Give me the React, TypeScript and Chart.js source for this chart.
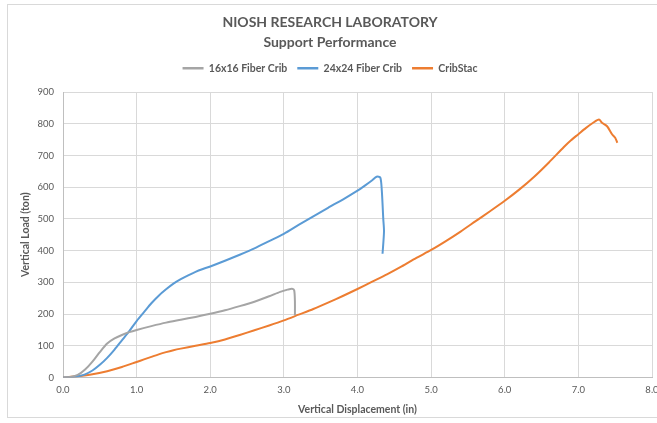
import React, { useEffect, useRef } from "react";
import { Chart, registerables } from "chart.js";

Chart.register(...registerables);

const TITLE_LINES = ["NIOSH RESEARCH LABORATORY", "Support Performance"];
const SERIES_NAMES = ["16x16 Fiber Crib", "24x24 Fiber Crib", "CribStac"];
const SERIES_COLORS = ["#A5A5A5", "#5B9BD5", "#ED7D31"];

const crib16X = [0, 0.1, 0.2, 0.3, 0.4, 0.5, 0.6, 0.7, 0.8, 0.9, 1.0, 1.2, 1.4, 1.6, 1.8, 2.0, 2.2, 2.4, 2.6, 2.8, 2.95, 3.05, 3.11, 3.14, 3.15, 3.15];
const crib16Y = [0, 2, 8, 25, 50, 80, 107, 123, 134, 143, 150, 162, 173, 182, 191, 201, 212, 225, 239, 256, 270, 277, 280, 275, 240, 196];

const crib24X = [0, 0.1, 0.2, 0.3, 0.4, 0.5, 0.6, 0.7, 0.8, 0.9, 1.0, 1.1, 1.2, 1.3, 1.4, 1.5, 1.6, 1.7, 1.8, 1.9, 2.0, 2.2, 2.4, 2.6, 2.8, 3.0, 3.2, 3.4, 3.6, 3.8, 4.0, 4.1, 4.2, 4.26, 4.31, 4.33, 4.35, 4.36, 4.34];
const crib24Y = [0, 1, 4, 10, 22, 40, 62, 88, 117, 146, 178, 206, 234, 258, 278, 296, 310, 322, 333, 342, 350, 368, 387, 407, 430, 453, 481, 508, 535, 561, 589, 605, 622, 633, 630, 590, 500, 460, 390];

const cribStacX = [0, 0.2, 0.4, 0.6, 0.8, 1.0, 1.1, 1.2, 1.3, 1.4, 1.5, 1.6, 1.8, 2.0, 2.2, 2.4, 2.6, 2.8, 3.0, 3.2, 3.4, 3.6, 3.8, 4.0, 4.2, 4.4, 4.6, 4.8, 5.0, 5.2, 5.4, 5.6, 5.8, 6.0, 6.2, 6.4, 6.6, 6.8, 6.9, 7.0, 7.1, 7.2, 7.28, 7.32, 7.39, 7.46, 7.5, 7.53];
const cribStacY = [0, 4, 10, 20, 33, 49, 57, 65, 73, 80, 86, 91, 100, 109, 120, 134, 149, 164, 180, 198, 216, 236, 257, 279, 302, 325, 350, 377, 402, 430, 460, 492, 524, 557, 593, 633, 678, 726, 748, 767, 786, 803, 813, 803, 792, 766, 756, 740];

const X_TITLE = "Vertical Displacement (in)";
const Y_TITLE = "Vertical Load (ton)";
const X_MIN = 0, X_MAX = 8, X_STEP = 1;
const Y_MIN = 0, Y_MAX = 900, Y_STEP = 100;

const FONT = "Lato, 'Liberation Sans', sans-serif";
const TEXT = "#595959";

function pts(xs: number[], ys: number[]) {
  return xs.map((x, i) => ({ x, y: ys[i] }));
}

export default function App() {
  const ref = useRef<HTMLCanvasElement | null>(null);
  useEffect(() => {
    if (!ref.current) return;
    const allX = [crib16X, crib24X, cribStacX];
    const allY = [crib16Y, crib24Y, cribStacY];
    const legendSpacer = {
      id: "legendSpacer",
      beforeInit(chart: any) {
        const orig = chart.legend.fit;
        chart.legend.fit = function () {
          orig.bind(chart.legend)();
          this.height += 8.5;
        };
      },
    };
    const defaultGen = (Chart.defaults as any).plugins.legend.labels.generateLabels;
    const chart = new Chart(ref.current, {
      type: "scatter",
      data: {
        datasets: SERIES_NAMES.map((name, i) => ({
          label: name,
          data: pts(allX[i], allY[i]),
          borderColor: SERIES_COLORS[i],
          backgroundColor: SERIES_COLORS[i],
          borderWidth: 2,
          showLine: true,
          pointRadius: 0,
          tension: 0.25,
        })),
      },
      options: {
        animation: false,
        responsive: false,
        maintainAspectRatio: false,
        layout: { padding: { left: 0, right: 16, top: 0, bottom: 0 } },
        plugins: {
          title: {
            display: true,
            text: TITLE_LINES,
            color: TEXT,
            font: { family: FONT, size: 14, weight: "bold", lineHeight: 20 / 14 },
            padding: { top: 7.5, bottom: 0.5 },
          },
          legend: {
            display: true,
            position: "top",
            labels: {
              color: TEXT,
              font: { family: FONT, size: 10.5, weight: "bold" },
              boxWidth: 21,
              boxHeight: 2.5,
              padding: 10,
              generateLabels: (c: any) =>
                defaultGen(c).map((l: any) => ({ ...l, lineWidth: 0 })),
            },
          },
          tooltip: { enabled: false },
        },
        scales: {
          x: {
            type: "linear",
            min: X_MIN,
            max: X_MAX,
            afterFit(scale: any) { scale.height = 39.5; },
            ticks: {
              stepSize: X_STEP,
              color: TEXT,
              font: { family: FONT, size: 9.5 },
              padding: 7,
              callback: (v: any) => Number(v).toFixed(1),
            },
            grid: { color: "#D9D9D9", drawTicks: false },
            border: { color: "#BFBFBF" },
            title: {
              display: true,
              text: X_TITLE,
              color: TEXT,
              font: { family: FONT, size: 10.5, weight: "bold" },
              padding: { top: 0, bottom: 1 },
            },
          },
          y: {
            type: "linear",
            min: Y_MIN,
            max: Y_MAX,
            afterFit(scale: any) { scale.width = 55; },
            ticks: {
              stepSize: Y_STEP,
              color: TEXT,
              font: { family: FONT, size: 9.5 },
              padding: 9,
            },
            grid: { color: "#D9D9D9", drawTicks: false },
            border: { color: "#BFBFBF" },
            title: {
              display: true,
              text: Y_TITLE,
              color: TEXT,
              font: { family: FONT, size: 10.5, weight: "bold" },
              padding: { top: 11.7, bottom: 0 },
            },
          },
        },
      },
      plugins: [legendSpacer],
    } as any);
    return () => chart.destroy();
  }, []);

  return (
    <div
      style={{
        position: "fixed",
        left: 7,
        top: 4,
        width: 660,
        height: 412,
        border: "1px solid #D9D9D9",
        background: "#fff",
      }}
    >
      <canvas ref={ref} width={660} height={412} style={{ display: "block", width: 660, height: 412 }} />
    </div>
  );
}
